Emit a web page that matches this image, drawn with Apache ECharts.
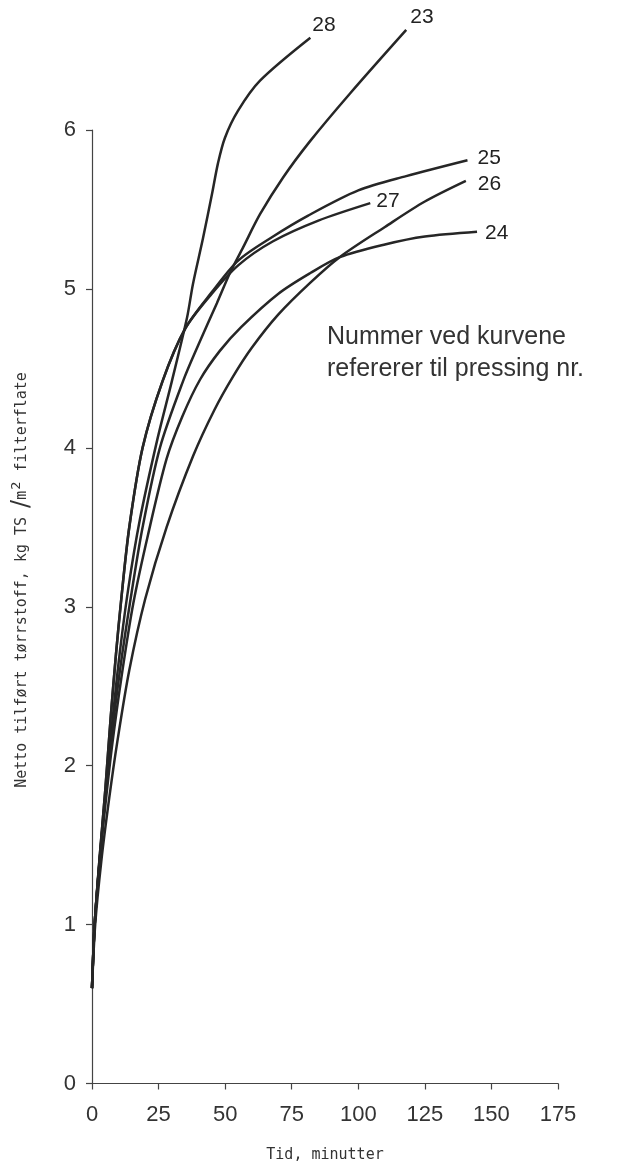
<!DOCTYPE html>
<html>
<head>
<meta charset="utf-8">
<title>Pressing curves</title>
<script src="https://cdn.jsdelivr.net/npm/echarts@6/dist/echarts.min.js"></script>
<style>
  html, body { margin: 0; padding: 0; background: #fff; }
  #chart { width: 618px; height: 1170px; }
</style>
</head>
<body>
<div id="chart"></div>
<script>
// curve numbers (pressing nr.)
const curveNames = ["28", "23", "25", "26", "27", "24"];

// [minutes, kg TS / m2]
const press28 = [[0, 0.6], [1, 1.0], [3, 1.43], [5, 1.8], [7.5, 2.25], [10, 2.65], [13.5, 3.1], [18, 3.55], [24.5, 4.05], [30, 4.42], [35.7, 4.82], [37.9, 5.03], [41.7, 5.32], [45.1, 5.6], [47.3, 5.79], [49.9, 5.95], [54.8, 6.12], [63.1, 6.31], [82, 6.58]];
const press23 = [[0, 0.6], [1, 1.0], [3, 1.43], [5, 1.8], [7.5, 2.2], [10.5, 2.6], [14.5, 3.05], [19, 3.5], [25.5, 4.0], [34.2, 4.42], [40, 4.65], [46.9, 4.91], [51.8, 5.1], [56.7, 5.26], [63.1, 5.47], [71.7, 5.7], [81.9, 5.93], [96.9, 6.23], [118, 6.63]];
const press25 = [[0, 0.6], [1, 1.0], [3, 1.45], [5, 1.85], [7, 2.3], [9, 2.7], [11, 3.05], [14, 3.5], [19, 4.0], [26.5, 4.42], [35, 4.75], [45, 4.98], [55, 5.18], [68, 5.33], [81, 5.46], [100, 5.62], [118, 5.71], [141, 5.81]];
const press26 = [[0, 0.6], [1.2, 1.0], [3.5, 1.4], [6.5, 1.8], [9.5, 2.15], [14, 2.6], [20, 3.05], [28, 3.5], [38, 3.95], [46, 4.24], [53, 4.45], [60, 4.63], [70, 4.84], [82, 5.04], [93, 5.2], [110, 5.39], [125, 5.55], [140.4, 5.68]];
const press27 = [[0, 0.6], [1, 1.0], [3, 1.45], [5, 1.85], [7, 2.3], [9, 2.7], [11, 3.05], [14, 3.5], [19, 4.0], [26.5, 4.42], [35, 4.75], [45, 4.97], [55, 5.15], [68, 5.3], [85, 5.43], [104.5, 5.54]];
const press24 = [[0, 0.6], [1, 1.0], [3, 1.42], [5, 1.75], [7.5, 2.12], [11, 2.55], [15.5, 3.02], [21, 3.45], [28, 3.93], [34, 4.2], [40.6, 4.43], [48, 4.61], [56, 4.76], [70, 4.97], [82, 5.1], [93, 5.2], [110, 5.28], [125, 5.33], [144.6, 5.36]];

const curveData = [press28, press23, press25, press26, press27, press24];

const xTicks = [0, 25, 50, 75, 100, 125, 150, 175];
const yTicks = [0, 1, 2, 3, 4, 5, 6];

const xName = "Tid, minutter";
const noteLines = ["Nummer ved kurvene", "refererer til pressing nr."];

// where the number sits next to the end of each curve
const labelOffset = {
  "28": [-4, -13], "23": [-2, -13], "25": [4, -2],
  "26": [6, 3], "27": [0, -2], "24": [2, 1]
};

const ink = "#262626";
const tickFont = { fontFamily: "Liberation Sans", fontSize: 22, color: "#333" };
const nameFont = "DejaVu Sans Mono";

const chart = echarts.init(document.getElementById("chart"));

const series = curveNames.map((name, i) => ({
  name,
  type: "line",
  data: curveData[i],
  smooth: 0.3,
  symbol: "none",
  clip: false,
  silent: true,
  lineStyle: { color: ink, width: 2.5 },
  endLabel: {
    show: true,
    formatter: name,
    distance: 6,
    offset: labelOffset[name],
    fontFamily: "Liberation Sans",
    fontSize: 21,
    color: "#222"
  }
}));

chart.setOption({
  backgroundColor: "#fff",
  animation: false,
  grid: { left: 92, right: 60, top: 130, bottom: 86.5 },
  xAxis: {
    type: "value",
    min: xTicks[0],
    max: xTicks[xTicks.length - 1],
    interval: 25,
    name: xName,
    nameLocation: "middle",
    nameGap: 64,
    nameTextStyle: { fontFamily: nameFont, fontSize: 15, color: "#333" },
    axisLine: { show: true, lineStyle: { color: "#444", width: 1.2 } },
    axisTick: { show: true, length: 6, lineStyle: { color: "#444", width: 1.2 } },
    axisLabel: Object.assign({ margin: 20 }, tickFont),
    splitLine: { show: false }
  },
  yAxis: {
    type: "value",
    min: yTicks[0],
    max: yTicks[yTicks.length - 1],
    interval: 1,
    axisLine: { show: true, lineStyle: { color: "#444", width: 1.2 } },
    axisTick: { show: true, length: 6, lineStyle: { color: "#444", width: 1.2 } },
    axisLabel: Object.assign({ margin: 16 }, tickFont),
    splitLine: { show: false }
  },
  graphic: [
    {
      type: "text",
      x: 22,
      y: 580,
      rotation: Math.PI / 2,
      style: {
        text: "{a|Netto tilført tørrstoff, kg TS }{s|/}{a|m}{p|2}{a| filterflate}",
        align: "center",
        verticalAlign: "middle",
        fill: "#333",
        rich: {
          a: { fontFamily: nameFont, fontSize: 15, fill: "#333" },
          s: { fontFamily: "DejaVu Sans", fontSize: 24, fill: "#333" },
          p: { fontFamily: "DejaVu Sans", fontSize: 13, fill: "#333", padding: [0, 1, 10, 1] }
        }
      }
    },
    {
      type: "text",
      x: 327,
      y: 337,
      style: {
        text: noteLines[0],
        verticalAlign: "middle",
        fontFamily: "Liberation Sans",
        fontSize: 25,
        fill: "#333"
      }
    },
    {
      type: "text",
      x: 327,
      y: 369,
      style: {
        text: noteLines[1],
        verticalAlign: "middle",
        fontFamily: "Liberation Sans",
        fontSize: 25,
        fill: "#333"
      }
    }
  ],
  series
});
</script>
</body>
</html>
